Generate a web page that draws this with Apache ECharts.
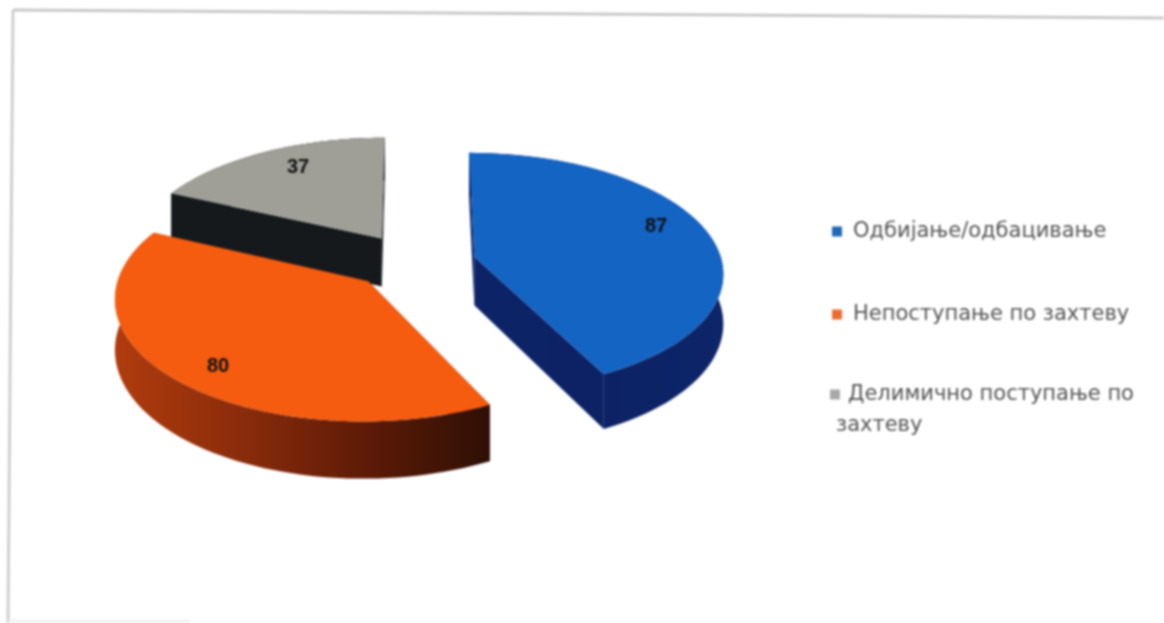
<!DOCTYPE html>
<html><head><meta charset="utf-8">
<style>html,body{margin:0;padding:0;background:#fff}#c{width:1164px;height:623px;filter:blur(1.1px)}</style>
<script src="https://cdn.jsdelivr.net/npm/echarts@6/dist/echarts.min.js"></script>
</head><body><div id="c"></div>
<script>
const categories = ['Одбијање/одбацивање', 'Непоступање по захтеву', 'Делимично поступање по захтеву'];
const values = [87, 80, 37];
const legendFirstLines = ['Одбијање/одбацивање', 'Непоступање по захтеву', 'Делимично поступање по'];
const legendSecondLine = 'захтеву';
const legendColors = ['#1f69b4', '#ee6a30', '#a8a8a8'];
const topColors = ['#1464c4', '#f55c10', '#9f9f98'];
const legendTops = [221, 304, 384];
const labelAt = [[656, 226], [218, 366], [298, 167]];
const drawOrder = [2, 0, 1];

const view = {cx: 414, cy: 263, rx: 258, ry: 118, p: 0.125, explode: 0.2, depth: 49};
const tweaks = [
  {anchor: 723, sx: 0.96, dx: 0, dy: -1},
  {anchor: 112, sx: 0.954, dx: 3, dy: 1},
  {anchor: 390, sx: 0.97, dx: -5, dy: -5}
];
const total = values.reduce((a, b) => a + b, 0);
const starts = values.map((v, i) => values.slice(0, i).reduce((a, b) => a + b, 0) / total * Math.PI * 2);

function project(X, Y, lift, t) {
  const w = 1 + view.p * Y;
  const x = view.cx + view.rx * X / w;
  const y = view.cy - view.ry * Y / w + (lift ? view.depth / w : 0);
  return [t.anchor + (x - t.anchor) * t.sx + t.dx, y + t.dy];
}
const g = (x, x2, stops) => ({type: 'linear', x, y: 0, x2, y2: 0, global: true,
  colorStops: stops.map((c, i) => ({offset: i / (stops.length - 1), color: c}))});
const sideColors = [
  g(470, 720, ['#0c2468', '#0c2264', '#0d2669']),
  g(115, 490, ['#b03c0e', '#8a2c0b', '#5e1b07', '#2e0f06']),
  g(170, 385, ['#15191b', '#15191b'])
];

function sliceRender(i) {
  return function (params, api) {
    const a0 = starts[i];
    const a1 = a0 + api.value(0) / total * Math.PI * 2;
    const mid = (a0 + a1) / 2;
    const ox = view.explode * Math.sin(mid), oy = view.explode * Math.cos(mid);
    const arc = [];
    const n = 72;
    for (let k = 0; k <= n; k++) {
      const t = a0 + (a1 - a0) * k / n;
      arc.push([ox + Math.sin(t), oy + Math.cos(t)]);
    }
    const tw = tweaks[i];
    const P = (p, lift) => project(p[0], p[1], lift, tw);
    const apex = [ox, oy];
    const fill = sideColors[i];
    const wall = pts => ({type: 'polygon', shape: {points: pts}, silent: true, style: {fill}});
    const arcTop = arc.map(p => P(p, false));
    const arcBot = arc.map(p => P(p, true));
    const children = [
      wall([P(apex, false), arcTop[0], arcBot[0], P(apex, true)]),
      wall([P(apex, false), arcTop[n], arcBot[n], P(apex, true)]),
      wall(arcTop.concat(arcBot.slice().reverse())),
      {type: 'polygon', shape: {points: [P(apex, false)].concat(arcTop)}, style: {fill: topColors[i]}, silent: true},
      {type: 'text', x: labelAt[i][0], y: labelAt[i][1], silent: true,
        style: {text: String(api.value(0)), fill: '#111111', font: 'bold 20px "Liberation Sans"', align: 'center', verticalAlign: 'middle'}}
    ];
    return {type: 'group', children};
  };
}

const chart = echarts.init(document.getElementById('c'), null, {renderer: 'canvas'});
chart.setOption({
  animation: false,
  backgroundColor: '#ffffff',
  legend: categories.map((name, i) => ({
    data: [name], left: i === 2 ? 830 : 832, top: legendTops[i], orient: 'vertical', padding: 0,
    icon: 'rect', itemWidth: 10, itemHeight: 10, selectedMode: false,
    formatter: () => legendFirstLines[i],
    textStyle: {fontFamily: 'DejaVu Sans', fontSize: 21, color: '#555555', padding: [0, 0, 0, i === 2 ? 3 : 6]}
  })),
  graphic: [
    {type: 'line', shape: {x1: 13, y1: 10, x2: 1164, y2: 18}, style: {stroke: '#c9c9c9', lineWidth: 3}, silent: true},
    {type: 'line', shape: {x1: 13, y1: 10, x2: 8, y2: 623}, style: {stroke: '#cfcfcf', lineWidth: 3}, silent: true},
    {type: 'line', shape: {x1: 8, y1: 621, x2: 190, y2: 621}, style: {stroke: '#ededed', lineWidth: 2}, silent: true},
    {type: 'text', x: 836, y: 415, silent: true, style: {text: legendSecondLine, font: '21px "DejaVu Sans"', fill: '#555555'}}
  ],
  series: drawOrder.map(i => ({
    type: 'custom', name: categories[i], coordinateSystem: 'none',
    itemStyle: {color: legendColors[i]},
    renderItem: sliceRender(i), data: [[values[i]]], silent: true
  }))
});
</script></body></html>
